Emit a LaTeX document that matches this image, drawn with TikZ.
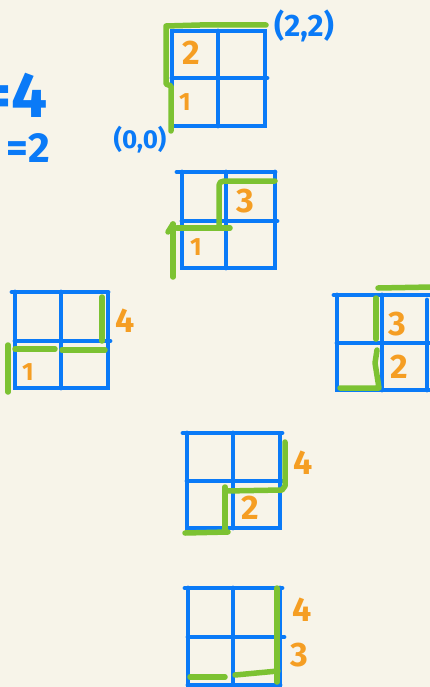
\documentclass[tikz,border=0pt]{standalone}
\usepackage{fontspec}
\setmainfont{Fira Sans}
\definecolor{bg}{HTML}{F7F4E9}
\definecolor{gblue}{HTML}{0A7AF7}
\definecolor{ggreen}{HTML}{7CC232}
\definecolor{gorange}{HTML}{F59E23}
\begin{document}
\begin{tikzpicture}[x=1pt,y=-1pt,
  gridline/.style={gblue,line width=4.8pt,line cap=round},
  route/.style={ggreen,line width=5.5pt,line cap=round,line join=round},
  num/.style={gorange,inner sep=0pt,font=\fontsize{34}{34}\selectfont\bfseries},
  one/.style={gorange,inner sep=0pt,font=\fontsize{25}{25}\selectfont\bfseries},
  hand/.style={gblue,inner sep=0pt,font=\fontsize{28}{28}\selectfont\bfseries}]
\fill[bg] (0,0) rectangle (430,687);
\useasboundingbox (0,0) rectangle (430,687);
\clip (0,0) rectangle (430,687);

% left annotations
\node[gblue,inner sep=0pt,anchor=east,font=\fontsize{64}{64}\selectfont\bfseries] (eqa) at (48,95) {=4};
\node[gblue,inner sep=0pt,anchor=east,font=\fontsize{42}{42}\selectfont\bfseries] (eqb) at (50,148) {=2};

% grid 1
\draw[gridline] (172,31) rectangle (265,126);
\draw[gridline] (218,31) -- (218,126);
\draw[gridline] (172,78) -- (267,78);
\draw[route] (171,131) -- (171,86) -- (166,84) -- (166,26) -- (200,25) -- (266,25);
\node[num] (g1n2) at (191,53) {2};
\node[one] (g1n1) at (185,102) {1};
\node[hand,font=\fontsize{31}{31}\selectfont\bfseries] (p22) at (304,26) {(2,2)};
\node[hand,font=\fontsize{26}{26}\selectfont\bfseries] (p00) at (140,140) {(0,0)};

% grid 2
\draw[gridline] (177,172) -- (275,172);
\draw[gridline] (182,172) -- (182,268) -- (275,268) -- (275,172);
\draw[gridline] (226,172) -- (226,268);
\draw[gridline] (182,221) -- (277,221);
\draw[route] (173,277) -- (173,224);
\draw[route] (168,232) -- (173,224);
\draw[route] (177,228) -- (230,228);
\draw[route] (219,228) -- (219,190) .. controls (219,181) .. (230,181) -- (275,181);
\node[num] (g2n3) at (245,201) {3};
\node[one] (g2n1) at (196,247) {1};

% grid 3
\draw[gridline] (12,292) -- (108,292);
\draw[gridline] (15,292) -- (15,388) -- (108,388) -- (108,294);
\draw[gridline] (61,292) -- (61,388);
\draw[gridline] (15,341) -- (110,341);
\draw[route] (8,345) -- (8,392);
\draw[route] (15,349) -- (55,349);
\draw[route] (62,350) -- (105,350);
\draw[route] (102,297) -- (102,341);
\node[one] (g3n1) at (28,372) {1};
\node[num] (g3n4) at (125,321) {4};

% grid 4
\draw[gridline] (334,295) -- (430,295);
\draw[gridline] (337,295) -- (337,390) -- (430,390);
\draw[gridline] (382,295) -- (382,390);
\draw[gridline] (337,343) -- (430,343);
\draw[gridline] (427,300) -- (427,390);
\draw[route] (378,288) -- (432,287);
\draw[route] (376,298) -- (376,339);
\draw[route] (377,350) -- (375,363) -- (379,388) -- (340,388);
\node[num] (g4n3) at (397,324) {3};
\node[num] (g4n2) at (399,367) {2};

% grid 5
\draw[gridline] (183,433) -- (282,433);
\draw[gridline] (187,433) -- (187,528) -- (280,528) -- (280,435);
\draw[gridline] (233,433) -- (233,528);
\draw[gridline] (187,481) -- (282,481);
\draw[route] (185,533) -- (228,532);
\draw[route] (225,532) -- (225,487);
\draw[route] (225,491) -- (282,490) -- (285,486) -- (285,442);
\node[num] (g5n2) at (250,508) {2};
\node[num] (g5n4) at (303,463) {4};

% grid 6
\draw[gridline] (185,588) -- (282,588);
\draw[gridline] (188,588) -- (188,690);
\draw[gridline] (233,588) -- (233,690);
\draw[gridline] (280,588) -- (280,690);
\draw[gridline] (188,637) -- (284,637);
\draw[gridline] (188,685) -- (280,685);
\draw[route] (277,588) -- (277,682);
\draw[route] (190,677) -- (225,677);
\draw[route] (235,675) -- (278,671);
\node[num] (g6n4) at (302,610) {4};
\node[num] (g6n3) at (299,655) {3};
\end{tikzpicture}
\end{document}
